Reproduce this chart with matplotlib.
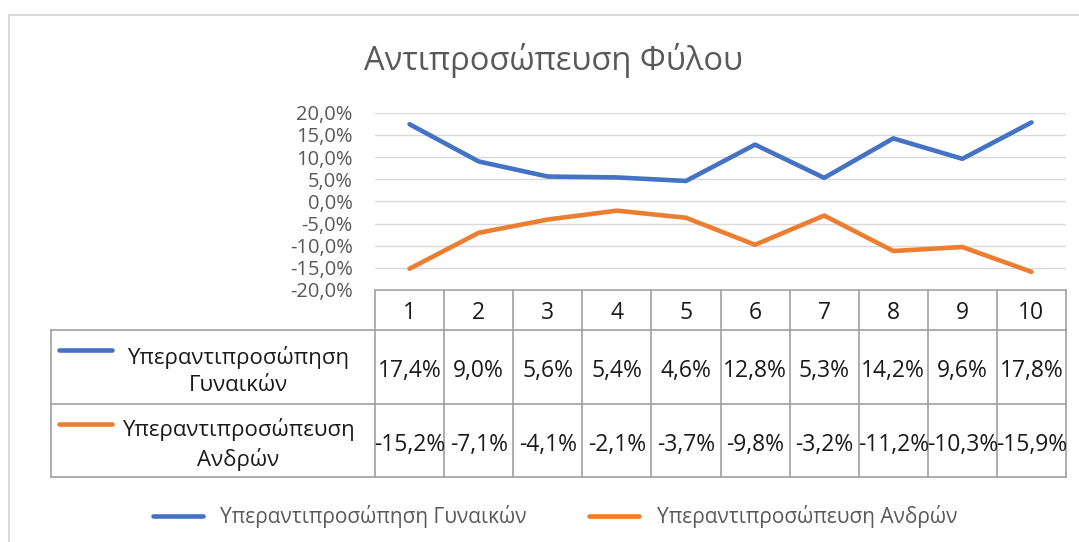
import numpy as np
import matplotlib
matplotlib.use("Agg")
import matplotlib.pyplot as plt
from matplotlib.transforms import blended_transform_factory
from matplotlib.ticker import FuncFormatter

plt.rcParams['font.family'] = ['Open Sans', 'DejaVu Sans']

# data
groups = [1, 2, 3, 4, 5, 6, 7, 8, 9, 10]
women = [17.4, 9.0, 5.6, 5.4, 4.6, 12.8, 5.3, 14.2, 9.6, 17.8]
men = [-15.2, -7.1, -4.1, -2.1, -3.7, -9.8, -3.2, -11.2, -10.3, -15.9]
series_names = ['Υπεραντιπροσώπηση Γυναικών', 'Υπεραντιπροσώπευση Ανδρών']
row_labels = ['Υπεραντιπροσώπηση\nΓυναικών', 'Υπεραντιπροσώπευση\nΑνδρών']
title = 'Αντιπροσώπευση Φύλου'

BLUE = '#4472C4'
ORANGE = '#ED7D31'
GREY_TXT = '#595959'
GRID = '#D9D9D9'
TABLE_LINE = '#A0A0A0'

W, H = 1079, 542
fig = plt.figure(figsize=(W / 100, H / 100), dpi=100)

# overlay in pixel coords for border / table
ov = fig.add_axes([0, 0, 1, 1])
ov.set_xlim(0, W)
ov.set_ylim(H, 0)
ov.axis('off')

# chart border (only top and left visible in the crop)
ov.plot([9, W], [15, 15], color=GRID, lw=1.3)
ov.plot([9, 9], [15, H], color=GRID, lw=1.3)

# plot area
px_l, px_r, px_t, px_b = 375, 1066, 112.7, 290
ax = fig.add_axes([px_l / W, 1 - px_b / H, (px_r - px_l) / W, (px_b - px_t) / H])
ax.set_xlim(0.5, len(groups) + 0.5)
ax.set_ylim(-20, 20)
ax.set_yticks(np.arange(-20, 21, 5))
ax.yaxis.set_major_formatter(FuncFormatter(lambda v, p: f'{v:.1f}%'.replace('.', ',')))
ax.tick_params(axis='y', length=0, labelsize=14.5, labelcolor=GREY_TXT, pad=16)
ax.set_xticks([])
for s in ax.spines.values():
    s.set_visible(False)
ax.grid(axis='y', color=GRID, lw=1.0)
ax.set_axisbelow(True)
ax.patch.set_alpha(0)

l1, = ax.plot(groups, women, color=BLUE, lw=3.3, solid_capstyle='round', label=series_names[0])
l2, = ax.plot(groups, men, color=ORANGE, lw=3.3, solid_capstyle='round', label=series_names[1])

fig.text(553 / W, 1 - 61 / H, title, ha='center', va='center', fontsize=23.5, color=GREY_TXT)

# data table under the axis
tr = blended_transform_factory(ax.transData, ov.transData)
y_hdr_top, y_hdr_bot, y_r1_bot, y_r2_bot = 290, 330, 404, 477
tab_left = 51
edges = np.arange(0.5, len(groups) + 1, 1.0)
for e in edges:
    ov.plot([e, e], [y_hdr_top, y_r2_bot], color=TABLE_LINE, lw=1.2, transform=tr)
ov.plot([0.5, len(groups) + 0.5], [y_hdr_top, y_hdr_top], color=TABLE_LINE, lw=1.2, transform=tr)
ov.plot([tab_left, px_r], [y_hdr_bot, y_hdr_bot], color=TABLE_LINE, lw=1.2)
ov.plot([tab_left, px_r], [y_r1_bot, y_r1_bot], color=TABLE_LINE, lw=1.2)
ov.plot([tab_left, px_r], [y_r2_bot, y_r2_bot], color=TABLE_LINE, lw=1.2)
ov.plot([tab_left, tab_left], [y_hdr_bot, y_r2_bot], color=TABLE_LINE, lw=1.2)

num_fs = 16.5
for g in groups:
    ov.text(g, (y_hdr_top + y_hdr_bot) / 2 + 3, str(g), transform=tr, ha='center', va='center',
            fontsize=num_fs, color='#1a1a1a')
for g, w, m in zip(groups, women, men):
    ov.text(g, (y_hdr_bot + y_r1_bot) / 2 + 4, f'{w:.1f}%'.replace('.', ','), transform=tr,
            ha='center', va='center', fontsize=num_fs, color='#1a1a1a')
    ov.text(g, (y_r1_bot + y_r2_bot) / 2 + 4, f'{m:.1f}%'.replace('.', ','), transform=tr,
            ha='center', va='center', fontsize=num_fs, color='#1a1a1a')

for (y0, y1), lab, col in zip([(y_hdr_bot, y_r1_bot), (y_r1_bot, y_r2_bot)], row_labels, [BLUE, ORANGE]):
    ov.plot([59, 112], [y0 + 20, y0 + 20], color=col, lw=3.3, solid_capstyle='round')
    ov.text(238, (y0 + y1) / 2 + 4, lab, ha='center', va='center', fontsize=16,
            color='#1a1a1a', linespacing=1.38)

fig.legend(handles=[l1, l2], loc='center', bbox_to_anchor=(555 / W, 1 - 517 / H), ncol=2,
           frameon=False, fontsize=15, labelcolor=GREY_TXT, handlelength=2.4,
           handletextpad=0.85, columnspacing=3.0)

fig.savefig('out.png', dpi=100)
